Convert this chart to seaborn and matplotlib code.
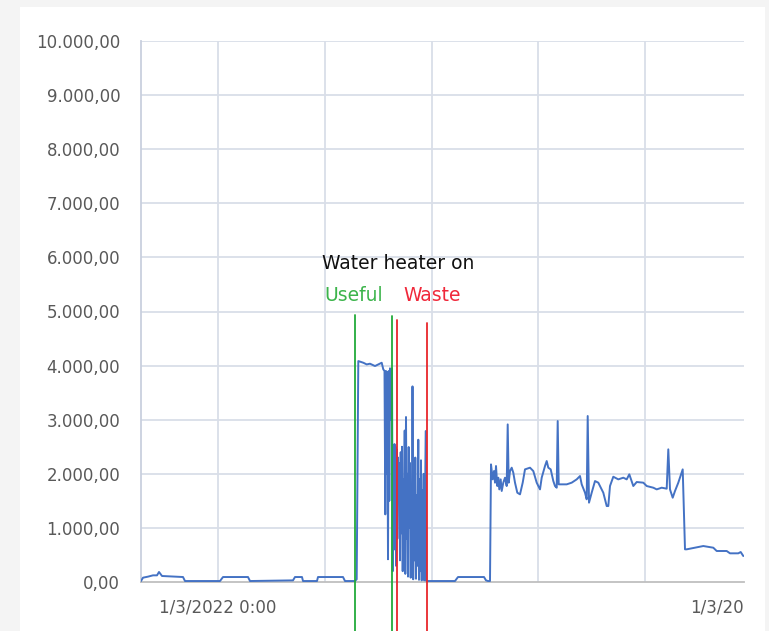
import matplotlib
matplotlib.use("Agg")
import matplotlib.pyplot as plt
import seaborn as sns
import pandas as pd
from matplotlib.patches import Rectangle

# time axis in sample steps (0 = left edge of plot); power in W
idle1_t = [0, 2, 7, 12, 16, 18, 21, 42, 44, 79, 82, 107, 109, 152, 154, 161, 162, 176, 177, 202, 204]
idle1_w = [18, 80, 99, 123, 123, 185, 111, 92, 18, 18, 92, 92, 18, 30, 92, 92, 18, 18, 92, 92, 18]

heater_t = [214, 215.7, 217.3, 222.3, 225.7, 229, 234, 237.3, 240.7, 242.3,
            243.5, 244.3, 245, 245.7, 246.3, 247, 247.7, 248.3, 249, 249.7,
            250.3, 251, 251.7]
heater_w = [18, 50, 4084, 4053, 4022, 4035, 3992, 4022, 4053, 3930,
            3900, 1250, 3900, 2000, 3880, 420, 3900, 1500, 3950, 3000,
            3920, 3950, 200]

cycling_t = [252.5, 253, 253.5, 254, 254.5, 255, 255.7, 256.3, 257, 257.7,
             258.3, 259, 259.7, 260.3, 261, 261.7, 262.3, 263, 263.7, 264.3,
             265, 265.7, 266.3, 267, 267.7, 268.3, 269, 269.7, 270.3, 271,
             271.5, 272.2, 273, 273.7, 274.3, 275, 275.7, 276.3, 277.3, 278,
             278.7, 279.3, 280, 280.7, 281.3, 282, 282.7, 283.3, 284, 284.7,
             285.3, 286]
cycling_w = [2500, 600, 2550, 1200, 2500, 300, 2450, 800, 2300, 1500,
             2200, 400, 2400, 900, 2500, 200, 1900, 1100, 2800, 150,
             3050, 800, 2000, 100, 2495, 1000, 2200, 80, 1800, 600,
             3616, 50, 2000, 400, 2300, 60, 1600, 300, 2630, 40,
             1900, 200, 2250, 30, 1700, 100, 2000, 30, 1500, 2790,
             20, 18]

idle2_t = [300, 314, 317, 343, 345, 347]
idle2_w = [18, 18, 92, 92, 30, 18]

load_t = [349, 350, 351.7, 353, 354, 355, 356.3, 357.3, 358.3, 359.7,
          360.7, 362.3, 364, 365.7, 366.7, 367.7, 369, 370.7, 372.3, 374,
          376.3, 379, 381.7, 384, 389, 392.3, 395.7, 399, 400.7, 404,
          405.7, 407.3, 409.7, 412.3, 414, 415.7, 416.7, 417.7, 420.7, 425.7,
          430.7, 435.7, 439, 440.7, 444, 445.7, 446.7, 448, 450.7, 454,
          457.3, 462.3, 465.7, 467.3, 469, 472.3, 477.3, 482.3, 485.7, 488.3,
          492.3, 495.7, 502.3, 505.7, 512.3, 515.7, 520.7, 525.7, 527.3, 529,
          531.7, 534, 537.3, 541.7, 544, 545.7, 562.3, 572.3, 575.7, 585.7,
          589, 597.3, 599.7, 602.3]
load_w = [18, 2174, 1897, 2051, 1836, 2144, 1774, 1928, 1712, 1897,
          1682, 1836, 1928, 1774, 2913, 1836, 2051, 2113, 2020, 1836,
          1651, 1620, 1836, 2082, 2113, 2051, 1836, 1712, 1928, 2144,
          2236, 2113, 2082, 1867, 1774, 1743, 2975, 1805, 1805, 1805,
          1836, 1897, 1959, 1805, 1651, 1528, 3068, 1466, 1651, 1866,
          1836, 1651, 1404, 1404, 1774, 1946, 1897, 1928, 1897, 1990,
          1774, 1848, 1836, 1774, 1743, 1712, 1743, 1725, 2452, 1712,
          1558, 1682, 1836, 2082, 604, 604, 665, 634, 573, 573,
          530, 530, 554, 480]

useful_x = [214, 251]
useful_top = [4934, 4915]
waste_x = [256, 286]
waste_top = [4842, 4786]

y_ticks = [0, 1000, 2000, 3000, 4000, 5000, 6000, 7000, 8000, 9000, 10000]
y_labels = ["0,00", "1.000,00", "2.000,00", "3.000,00", "4.000,00", "5.000,00",
            "6.000,00", "7.000,00", "8.000,00", "9.000,00", "10.000,00"]
x_gridlines = [77, 184, 291, 397, 504]
x_label_first = "1/3/2022 0:00"
x_label_last = "1/3/20"

df = pd.DataFrame({"t": idle1_t + heater_t + cycling_t + idle2_t + load_t,
                   "w": idle1_w + heater_w + cycling_w + idle2_w + load_w})

sns.set_theme(style="white")
plt.rcParams["font.family"] = ["DejaVu Sans"]

W, H = 769, 631
fig = plt.figure(figsize=(W / 100, H / 100), dpi=100)
fig.patch.set_facecolor("#f4f4f4")
panel = Rectangle((20 / W, 0), (765 - 20) / W, (631 - 7) / H,
                  transform=fig.transFigure, facecolor="white",
                  edgecolor="none", zorder=-10)
fig.add_artist(panel)

ax = fig.add_axes([141 / W, (H - 582) / H, (744 - 141) / W, (582 - 41) / H])
ax.set_facecolor("none")
ax.set_zorder(1)

grid_c = "#d9dee8"
for yv in y_ticks[1:]:
    ax.axhline(yv, color=grid_c, lw=1.3, zorder=1)
for xv in x_gridlines:
    ax.axvline(xv, color=grid_c, lw=1.3, zorder=1)

sns.lineplot(data=df, x="t", y="w", ax=ax, color="#4472c4", lw=1.4, zorder=3,
             estimator=None, sort=False)

ax.set_xlim(0, 603)
ax.set_ylim(0, 10000)
ax.set_xlabel("")
ax.set_ylabel("")

ax.set_yticks(y_ticks)
ax.set_yticklabels(y_labels, fontsize=12, color="#595959")
ax.tick_params(axis="y", length=0, pad=15)
ax.set_xticks([])
label_y = -(607 - 582) / (582 - 41)
ax.text(x_gridlines[0], label_y, x_label_first, transform=ax.get_xaxis_transform(),
        ha="center", va="center", fontsize=12, color="#595959")
ax.text(603, label_y, x_label_last, transform=ax.get_xaxis_transform(),
        ha="right", va="center", fontsize=12, color="#595959")

for s in ["top", "right"]:
    ax.spines[s].set_visible(False)
ax.spines["left"].set_color("#c9d0de")
ax.spines["left"].set_linewidth(1.3)
ax.spines["bottom"].set_color("#bfbfbf")
ax.spines["bottom"].set_linewidth(1.3)

bottom_y = -905
for xv, top in zip(useful_x, useful_top):
    ax.plot([xv, xv], [bottom_y, top], color="#22aa3a", lw=1.3, clip_on=False, zorder=4)
for xv, top in zip(waste_x, waste_top):
    ax.plot([xv, xv], [bottom_y, top], color="#e8262b", lw=1.3, clip_on=False, zorder=4)

ax.text(257, 5895, "Water heater on", ha="center", va="center", fontsize=13.5, color="#111111")
ax.text(213, 5304, "Useful", ha="center", va="center", fontsize=13.5, color="#3cb44b")
ax.text(291, 5304, "Waste", ha="center", va="center", fontsize=13.5, color="#f0283a")

fig.savefig("out.png", dpi=100)
